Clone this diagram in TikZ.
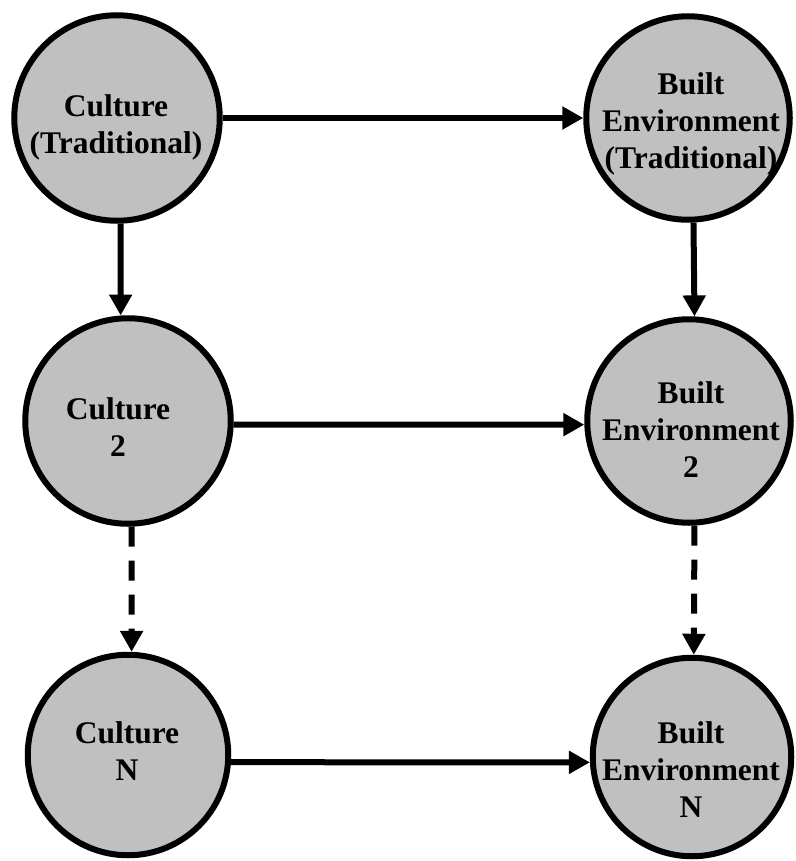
\documentclass[tikz,border=0pt]{standalone}
\usepackage{fontspec}
\setmainfont{Liberation Serif}
\usetikzlibrary{arrows.meta}
\definecolor{circfill}{RGB}{192,192,192}
\tikzset{
  circ/.style={circle, draw=black, line width=6pt, fill=circfill, minimum size=203.5pt, inner sep=0pt},
  lbl/.style={align=center, font=\bfseries\fontsize{31.5}{37}\selectfont, inner sep=0pt},
  conn/.style={line width=6pt, -{Triangle[length=21pt,width=22pt]}},
  dconn/.style={conn, dash pattern=on 20pt off 14pt}
}
\begin{document}
\begin{tikzpicture}[x=1pt,y=-1pt]
\useasboundingbox (0,0) rectangle (795,861);
\node[circ, minimum size=205.5pt] (c1) at (117,118) {};
\node[circ] (b1) at (688,118) {};
\node[circ, minimum size=205.5pt] (c2) at (128,421) {};
\node[circ] (b2) at (689,421) {};
\node[circ, minimum size=200.5pt] (cn) at (128,755) {};
\node[circ, minimum size=198.5pt] (bn) at (692,757) {};

\node[lbl] (t1) at (116,127) {Culture\\(Traditional)};
\node[lbl] (tb1) at (691,123.5) {Built\\Environment\\(Traditional)};
\node[lbl] (t2) at (118,427) {Culture\\2};
\node[lbl] (tb2) at (691,430) {Built\\Environment\\2};
\node[lbl] (tn) at (127,751) {Culture\\N};
\node[lbl] (tbn) at (691,770) {Built\\Environment\\N};

\draw[conn] (c1.east) -- (b1.west);
\draw[conn] (c2.-2.7) -- (b2.182.7);
\draw[conn] (cn.-4.4) -- (bn.183.3);
\draw[conn] (c1.-88.4) -- (c2.94.4);
\draw[conn] (b1.-87.3) -- (b2.87.8);
\draw[dconn] (c2.-88.9) -- (cn.88.9);
\draw[dconn] (b2.-87.8) -- (bn.89.5);
\end{tikzpicture}
\end{document}
